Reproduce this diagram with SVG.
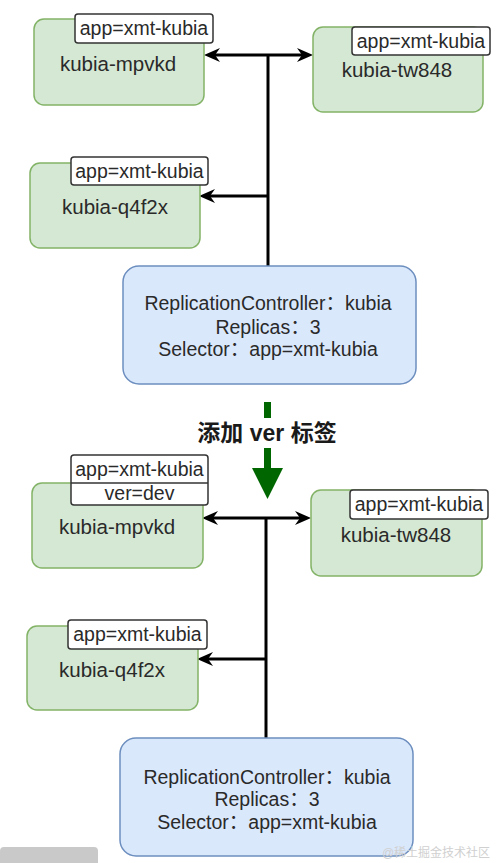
<svg xmlns="http://www.w3.org/2000/svg" width="497" height="863" viewBox="0 0 497 863">
<style>
text{font-family:"Liberation Sans","Noto Sans CJK SC",sans-serif;fill:#2a2a2a;text-anchor:middle}
.pod{fill:#d5e8d4;stroke:#82b366;stroke-width:1.5}
.rc{fill:#dae8fc;stroke:#6c8ebf;stroke-width:1.5}
.lbl{fill:#ffffff;stroke:#333333;stroke-width:1.5}
.name{font-size:20.5px}
.lt{font-size:19.5px}
.rct{font-size:19.5px}
.edge{fill:none;stroke:#000000;stroke-width:3;marker-end:url(#arr)}
.trunk{fill:none;stroke:#000000;stroke-width:3}
</style>
<defs>
<marker id="arr" markerUnits="userSpaceOnUse" markerWidth="18" markerHeight="16" refX="5" refY="8" orient="auto">
<path d="M0,1 L16,8 L0,15 L5,8 Z" fill="#000000"/>
</marker>
</defs>

<g id="connectors">
<path class="trunk" d="M268,266 L268,55"/>
<path class="edge" d="M268,55 L215,55"/>
<path class="edge" d="M268,55 L302,55"/>
<path class="edge" d="M268,196 L210,196"/>
<path class="trunk" d="M266,738 L266,518"/>
<path class="edge" d="M266,518 L213,518"/>
<path class="edge" d="M266,518 L300,518"/>
<path class="edge" d="M266,659 L208,659"/>
</g>

<g id="pod-mpvkd-1">
<rect class="pod" x="34" y="19" width="170" height="86" rx="10"/>
<text class="name" x="118" y="71">kubia-mpvkd</text>
<rect class="lbl" x="75" y="14" width="138" height="29" rx="3"/>
<text class="lt" x="144" y="35">app=xmt-kubia</text>
</g>
<g id="pod-tw848-1">
<rect class="pod" x="313" y="27" width="170" height="85" rx="10"/>
<text class="name" x="397" y="77">kubia-tw848</text>
<rect class="lbl" x="352" y="27" width="138" height="28" rx="3"/>
<text class="lt" x="421" y="48">app=xmt-kubia</text>
</g>
<g id="pod-q4f2x-1">
<rect class="pod" x="30" y="163" width="170" height="85" rx="10"/>
<text class="name" x="115" y="214">kubia-q4f2x</text>
<rect class="lbl" x="71" y="157" width="137" height="28" rx="3"/>
<text class="lt" x="139.5" y="178">app=xmt-kubia</text>
</g>
<g id="rc-1">
<rect class="rc" x="123" y="266" width="293" height="118" rx="16"/>
<text class="rct" x="268" y="310">ReplicationController：kubia</text>
<text class="rct" x="268" y="334">Replicas：3</text>
<text class="rct" x="268" y="356">Selector：app=xmt-kubia</text>
</g>

<g id="transition">
<rect x="264" y="402" width="7" height="16" fill="#006600"/>
<rect x="264" y="448" width="7" height="22" fill="#006600"/>
<polygon points="252,468 283,468 267.5,499" fill="#006600"/>
<text x="267" y="441" style="font-size:23px;font-weight:bold;fill:#1a1a1a">添加 ver 标签</text>
</g>

<g id="pod-mpvkd-2">
<rect class="pod" x="32" y="483" width="171" height="85" rx="10"/>
<text class="name" x="117" y="534">kubia-mpvkd</text>
<rect class="lbl" x="71" y="455" width="137" height="50" rx="3"/>
<line x1="71" y1="483" x2="208" y2="483" stroke="#333333" stroke-width="1.5"/>
<text class="lt" x="139.5" y="476">app=xmt-kubia</text>
<text class="lt" x="139.5" y="500">ver=dev</text>
</g>
<g id="pod-tw848-2">
<rect class="pod" x="311" y="490" width="171" height="86" rx="10"/>
<text class="name" x="396" y="542">kubia-tw848</text>
<rect class="lbl" x="350" y="490" width="138" height="29" rx="3"/>
<text class="lt" x="419" y="511">app=xmt-kubia</text>
</g>
<g id="pod-q4f2x-2">
<rect class="pod" x="27" y="626" width="171" height="84" rx="10"/>
<text class="name" x="112" y="677">kubia-q4f2x</text>
<rect class="lbl" x="68" y="620" width="139" height="29" rx="3"/>
<text class="lt" x="137.5" y="641">app=xmt-kubia</text>
</g>
<g id="rc-2">
<rect class="rc" x="120" y="738" width="293" height="118" rx="16"/>
<text class="rct" x="267" y="784">ReplicationController：kubia</text>
<text class="rct" x="267" y="806">Replicas：3</text>
<text class="rct" x="267" y="829">Selector：app=xmt-kubia</text>
</g>

<rect x="0" y="847" width="98" height="20" rx="4" fill="#c9c9c9"/>
<text x="436" y="857" style="font-size:12px;fill:#d0d0d0">@稀土掘金技术社区</text>
</svg>
